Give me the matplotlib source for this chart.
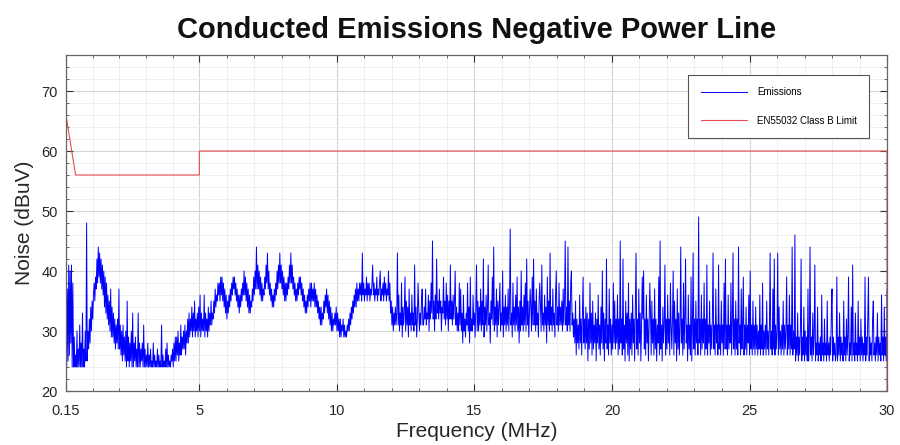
import numpy as np
import matplotlib
matplotlib.use("Agg")
import matplotlib.pyplot as plt
from matplotlib.ticker import FixedLocator

plt.rcParams['font.family'] = ['Liberation Sans', 'DejaVu Sans']

# receiver sweep: 0.15 MHz .. 30 MHz, 25 kHz steps
f_start, f_step = 0.15, 0.025

# measured noise level (dBuV), one row (two lines) per MHz of sweep
emissions_dbuv = [
    30, 24, 37, 25, 41, 26, 40, 28, 41, 24, 38, 24, 29, 24, 26, 24, 30, 24, 27, 24,
    31, 24, 28, 24, 33, 24, 27, 24, 30, 25, 48, 25, 30, 27, 32, 28, 34, 30, 35, 32,
    36, 38, 35, 39, 37, 42, 38, 44, 39, 43, 38, 42, 37, 41, 36, 40, 34, 39, 33, 38,
    32, 36, 31, 35, 30, 37, 29, 34, 29, 33, 28, 32, 27, 31, 28, 32, 27, 37, 27, 31,
    26, 30, 25, 31, 26, 29, 25, 30, 24, 35, 25, 29, 24, 28, 25, 30, 24, 33, 24, 28,
    25, 29, 24, 27, 24, 33, 24, 28, 24, 27, 25, 28, 24, 31, 24, 27, 24, 26, 24, 28,
    24, 26, 24, 27, 24, 25, 24, 28, 24, 26, 24, 25, 24, 27, 24, 26, 24, 25, 24, 31,
    24, 26, 24, 25, 24, 27, 24, 28, 24, 26, 24, 25, 24, 26, 25, 27, 24, 28, 25, 29,
    25, 29, 26, 30, 25, 28, 26, 31, 26, 29, 27, 30, 27, 31, 26, 30, 28, 32, 28, 33,
    29, 32, 30, 34, 29, 33, 30, 35, 29, 32, 30, 33, 29, 34, 30, 36, 29, 33, 30, 32,
    30, 36, 29, 33, 30, 32, 29, 34, 30, 33, 31, 35, 31, 33, 32, 35, 33, 37, 34, 36,
    35, 38, 36, 38, 35, 39, 36, 39, 35, 38, 34, 37, 33, 36, 32, 35, 33, 36, 34, 37,
    35, 38, 36, 39, 37, 39, 36, 38, 35, 37, 34, 36, 33, 36, 34, 37, 35, 38, 36, 40,
    36, 39, 35, 38, 34, 37, 33, 36, 33, 35, 34, 37, 35, 39, 36, 40, 37, 44, 37, 41,
    37, 40, 36, 39, 35, 38, 35, 37, 36, 39, 37, 41, 38, 43, 37, 40, 36, 38, 35, 37,
    34, 36, 34, 37, 35, 38, 36, 40, 37, 41, 38, 43, 38, 41, 37, 40, 36, 39, 35, 38,
    35, 38, 36, 39, 37, 41, 38, 43, 38, 41, 37, 39, 36, 38, 35, 37, 35, 38, 36, 39,
    37, 39, 36, 38, 35, 37, 34, 36, 33, 35, 33, 36, 34, 37, 35, 38, 34, 38, 35, 37,
    35, 38, 34, 37, 34, 36, 33, 35, 32, 34, 31, 34, 31, 33, 32, 35, 33, 36, 34, 37,
    33, 36, 32, 35, 31, 34, 30, 33, 30, 32, 31, 33, 31, 34, 30, 33, 30, 32, 29, 32,
    29, 31, 30, 32, 29, 31, 29, 30, 29, 31, 30, 32, 30, 33, 31, 34, 32, 35, 33, 36,
    34, 37, 34, 38, 35, 37, 35, 38, 36, 38, 35, 43, 36, 38, 35, 37, 36, 39, 35, 38,
    36, 38, 35, 37, 36, 38, 41, 36, 38, 35, 37, 36, 39, 35, 37, 36, 38, 40, 35, 37,
    36, 38, 35, 39, 36, 38, 35, 37, 36, 40, 35, 38, 33, 35, 31, 34, 30, 33, 31, 34,
    31, 33, 43, 31, 36, 30, 33, 31, 38, 29, 34, 31, 33, 39, 30, 35, 31, 34, 29, 37,
    31, 33, 30, 36, 31, 33, 30, 41, 31, 34, 29, 32, 38, 34, 30, 33, 31, 35, 37, 31,
    31, 34, 32, 37, 31, 33, 32, 36, 30, 35, 32, 38, 33, 45, 32, 35, 30, 36, 32, 42,
    33, 35, 32, 37, 33, 35, 30, 34, 33, 39, 32, 35, 31, 38, 32, 36, 30, 35, 32, 41,
    32, 35, 31, 36, 32, 35, 40, 31, 34, 30, 33, 30, 38, 31, 37, 30, 33, 28, 36, 30,
    32, 29, 33, 31, 38, 30, 34, 28, 39, 30, 32, 30, 36, 31, 33, 29, 34, 41, 30, 35,
    30, 34, 31, 37, 30, 35, 31, 42, 29, 34, 31, 36, 30, 34, 41, 31, 33, 28, 35, 32,
    39, 31, 44, 30, 34, 31, 37, 29, 35, 31, 34, 38, 30, 33, 31, 40, 29, 34, 31, 36,
    30, 34, 31, 37, 30, 34, 47, 31, 33, 29, 38, 31, 34, 30, 36, 31, 39, 30, 34, 28,
    35, 30, 40, 31, 34, 30, 36, 31, 38, 30, 42, 31, 35, 29, 33, 37, 34, 30, 39, 31,
    42, 31, 35, 30, 37, 31, 33, 29, 35, 38, 34, 30, 41, 31, 33, 30, 36, 31, 34, 28,
    39, 31, 35, 30, 43, 31, 34, 30, 37, 31, 33, 29, 36, 40, 31, 34, 30, 38, 31, 34,
    31, 35, 30, 37, 31, 35, 45, 31, 34, 30, 44, 31, 35, 30, 38, 40, 31, 33, 29, 32,
    28, 35, 26, 32, 28, 31, 27, 36, 28, 32, 26, 33, 39, 28, 32, 27, 34, 28, 33, 25,
    32, 27, 38, 28, 33, 26, 35, 27, 31, 28, 33, 25, 32, 28, 36, 27, 31, 26, 34, 28,
    40, 27, 33, 25, 32, 28, 42, 27, 31, 26, 37, 28, 32, 26, 31, 27, 38, 28, 35, 27,
    32, 28, 36, 26, 32, 27, 45, 28, 32, 26, 42, 27, 31, 25, 35, 28, 33, 26, 38, 25,
    32, 27, 33, 26, 36, 28, 32, 25, 34, 43, 27, 32, 26, 37, 28, 33, 25, 31, 39, 32,
    40, 27, 32, 26, 36, 28, 32, 25, 31, 38, 33, 26, 35, 28, 32, 26, 37, 27, 32, 25,
    31, 28, 39, 26, 45, 27, 31, 25, 34, 28, 31, 41, 26, 32, 27, 36, 28, 32, 26, 38,
    31, 27, 32, 40, 26, 35, 28, 32, 25, 37, 27, 33, 26, 31, 44, 28, 32, 26, 38, 27,
    32, 42, 28, 31, 25, 36, 27, 31, 26, 39, 25, 31, 43, 27, 32, 26, 35, 28, 32, 26,
    49, 28, 32, 26, 36, 27, 32, 28, 38, 26, 32, 27, 41, 26, 31, 28, 35, 26, 31, 27,
    32, 43, 27, 31, 26, 37, 28, 31, 26, 41, 27, 31, 26, 35, 28, 31, 26, 38, 27, 42,
    27, 31, 26, 36, 27, 31, 28, 38, 26, 31, 43, 27, 32, 26, 35, 27, 32, 26, 44, 28,
    31, 26, 37, 27, 31, 39, 26, 31, 27, 34, 26, 31, 28, 36, 26, 40, 27, 31, 26, 35,
    27, 31, 26, 34, 27, 31, 26, 30, 27, 36, 26, 31, 27, 38, 26, 30, 27, 31, 26, 35,
    27, 30, 26, 31, 43, 27, 30, 26, 37, 27, 42, 26, 31, 27, 30, 43, 26, 34, 27, 30,
    26, 31, 27, 35, 26, 31, 27, 30, 39, 26, 31, 27, 36, 26, 31, 27, 44, 26, 30, 27,
    46, 25, 29, 26, 33, 25, 29, 26, 30, 42, 25, 29, 26, 34, 25, 30, 26, 29, 25, 37,
    25, 29, 44, 26, 29, 25, 33, 26, 29, 41, 25, 28, 26, 34, 25, 28, 26, 29, 25, 36,
    26, 28, 25, 32, 26, 28, 25, 35, 26, 28, 25, 29, 26, 33, 37, 25, 29, 26, 28, 25,
    26, 39, 25, 29, 26, 33, 25, 29, 26, 28, 25, 35, 26, 29, 25, 32, 26, 29, 39, 25,
    28, 26, 34, 25, 41, 26, 28, 25, 33, 26, 28, 25, 35, 26, 29, 25, 32, 26, 29, 25,
    28, 26, 39, 25, 29, 26, 33, 39, 25, 29, 26, 28, 25, 32, 35, 26, 28, 25, 29, 26,
    33, 25, 29, 26, 28, 25, 36, 26, 29, 25, 34, 26, 29, 25, 37,
]
freq_mhz = f_start + f_step * np.arange(len(emissions_dbuv))

# EN55032 class B conducted limit (quasi-peak)
limit_freq_mhz = [0.15, 0.5, 5.0, 5.0, 30.0, 30.0]
limit_dbuv = [66, 56, 56, 60, 60, 20]

x_ticks = [0.15, 5, 10, 15, 20, 25, 30]
x_tick_labels = ['0.15', '5', '10', '15', '20', '25', '30']
y_ticks = [20, 30, 40, 50, 60, 70]

fig = plt.figure(figsize=(9, 4.45), dpi=100)
ax = fig.add_axes([0.0733, 0.1213, 0.9123, 0.7551])

ax.plot(freq_mhz, emissions_dbuv, color='#0000ff', lw=0.7, label='Emissions')
ax.plot(limit_freq_mhz, limit_dbuv, color='#ea4a52', lw=0.8, label='EN55032 Class B Limit')

ax.set_xlim(0.15, 30)
ax.set_ylim(20, 76)
ax.set_xticks(x_ticks)
ax.set_xticklabels(x_tick_labels)
ax.set_yticks(y_ticks)

# minor grid: 5 divisions per major interval
minor_x = []
for a, b in zip(x_ticks[:-1], x_ticks[1:]):
    minor_x += list(np.linspace(a, b, 6)[1:-1])
ax.xaxis.set_minor_locator(FixedLocator(minor_x))
ax.yaxis.set_minor_locator(FixedLocator(np.arange(20, 77, 2)))

ax.grid(which='major', color='#d4d4d4', lw=0.8)
ax.grid(which='minor', color='#ececec', lw=0.6)
ax.set_axisbelow(True)

ax.tick_params(which='both', direction='in', top=True, right=True, colors='#333333',
               labelsize=10.5, labelcolor='#262626')
ax.tick_params(which='major', length=5, width=0.8)
ax.tick_params(which='minor', length=2.5, width=0.5)
ax.tick_params(axis='x', which='major', pad=9)
ax.tick_params(axis='y', which='major', pad=6)
for s in ax.spines.values():
    s.set_color('#666666')
    s.set_linewidth(0.9)

ax.set_xlabel('Frequency (MHz)', fontsize=15, color='#262626', labelpad=3)
ax.set_ylabel('Noise (dBuV)', fontsize=15, color='#262626', labelpad=5)
ax.set_title('Conducted Emissions Negative Power Line', fontsize=21, fontweight='bold',
             color='#111111', pad=12)

leg = ax.legend(loc='upper right', bbox_to_anchor=(0.984, 0.955), fontsize=7,
                handlelength=4.8, labelspacing=1.9, borderpad=1.25, handletextpad=1.0,
                fancybox=False, framealpha=1.0, edgecolor='#555555')
leg.get_frame().set_linewidth(0.8)

fig.savefig('out.png', dpi=100)
